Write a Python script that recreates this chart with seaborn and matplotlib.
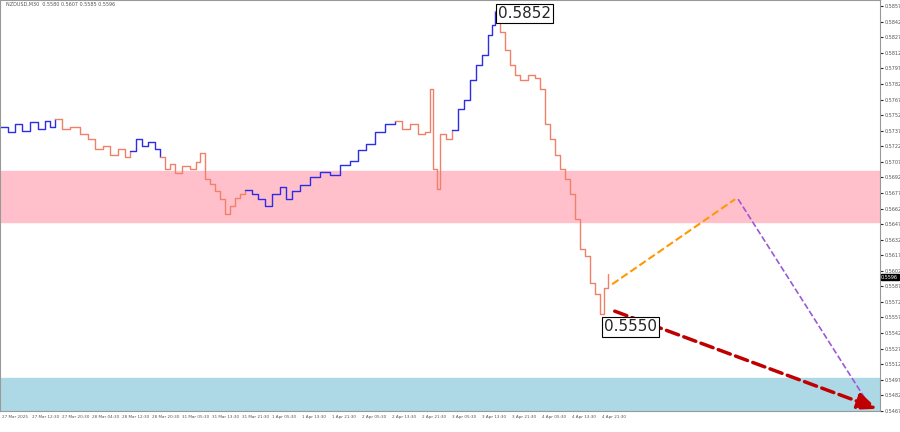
import matplotlib
matplotlib.use("Agg")
import matplotlib.pyplot as plt
import seaborn as sns
import pandas as pd

# time positions (bar units) and prices, grouped by wave
wave1_x = [0, 8, 15, 22, 30, 38, 45, 50, 55]
wave1_y = [0.5741, 0.5736, 0.5743, 0.5737, 0.5745, 0.5739, 0.5746, 0.5741, 0.5748]
wave2_x = [55, 62, 70, 80, 88, 95, 103, 110, 118, 125, 130]
wave2_y = [0.5748, 0.5739, 0.5741, 0.5734, 0.5729, 0.5719, 0.5722, 0.5714, 0.5719, 0.5712, 0.5717]
wave3_x = [130, 136, 142, 148, 155, 160]
wave3_y = [0.5717, 0.5729, 0.5722, 0.5726, 0.5719, 0.5712]
wave4_x = [160, 165, 170, 175, 182, 190, 196, 200]
wave4_y = [0.5712, 0.5700, 0.5705, 0.5696, 0.5703, 0.5700, 0.5707, 0.5716]
wave5_x = [200, 205, 210, 215, 220, 225, 230, 235, 240, 245]
wave5_y = [0.5716, 0.5690, 0.5686, 0.5679, 0.5671, 0.5657, 0.5664, 0.5672, 0.5676, 0.5680]
wave6_x = [245, 252, 258, 265, 272, 280, 286, 292]
wave6_y = [0.5680, 0.5676, 0.5671, 0.5664, 0.5676, 0.5683, 0.5671, 0.5679]
wave7_x = [292, 300, 310, 320, 330, 340, 350, 358, 366, 375, 385, 395]
wave7_y = [0.5679, 0.5685, 0.5692, 0.5697, 0.5694, 0.5704, 0.5708, 0.5718, 0.5724, 0.5736, 0.5743, 0.5746]
wave8_x = [395, 402, 410, 418, 425, 430, 433, 437, 440, 446, 452]
wave8_y = [0.5746, 0.5739, 0.5743, 0.5734, 0.5736, 0.5777, 0.5700, 0.5681, 0.5734, 0.5729, 0.5738]
wave9_x = [452, 458, 464, 470, 476, 482, 488, 492, 495]
wave9_y = [0.5738, 0.5758, 0.5767, 0.5786, 0.5800, 0.5810, 0.5829, 0.5839, 0.5852]
wave10_x = [495, 500, 505, 510, 515, 520, 528, 535, 540, 545, 550, 555, 560, 565, 570, 575, 580, 585, 590, 595, 600, 604, 608]
wave10_y = [0.5852, 0.5832, 0.5815, 0.5800, 0.5791, 0.5786, 0.5791, 0.5788, 0.5777, 0.5743, 0.5729, 0.5714, 0.5700, 0.5690, 0.5676, 0.5652, 0.5623, 0.5616, 0.5590, 0.5580, 0.5560, 0.5585, 0.5599]

blue = "#2d2de6"
salmon = "#f08068"
waves = [(wave1_x, wave1_y, blue), (wave2_x, wave2_y, salmon), (wave3_x, wave3_y, blue),
         (wave4_x, wave4_y, salmon), (wave5_x, wave5_y, salmon), (wave6_x, wave6_y, blue),
         (wave7_x, wave7_y, blue), (wave8_x, wave8_y, salmon), (wave9_x, wave9_y, blue),
         (wave10_x, wave10_y, salmon)]

x_tick_pos = [2, 32, 62, 92, 122, 152, 182, 212, 242, 272, 302, 332, 362, 392, 422, 452, 482, 512, 542, 572, 602]
x_tick_labels = ["27 Mar 2025", "27 Mar 12:30", "27 Mar 20:30", "28 Mar 04:30", "28 Mar 12:30",
                 "28 Mar 20:30", "31 Mar 05:30", "31 Mar 13:30", "31 Mar 21:30", "1 Apr 05:30",
                 "1 Apr 13:30", "1 Apr 21:30", "2 Apr 05:30", "2 Apr 13:30", "2 Apr 21:30",
                 "3 Apr 05:30", "3 Apr 13:30", "3 Apr 21:30", "4 Apr 05:30", "4 Apr 13:30", "4 Apr 21:30"]
y_ticks = [0.5857 - 0.0015 * i for i in range(27)]

sns.set_style("white")
fig = plt.figure(figsize=(9, 4.32), dpi=100)
ax = fig.add_axes([0.0, 0.049, 0.978, 0.951])

ax.axhspan(0.5649, 0.5698, color="#ffc0cb", zorder=0)
ax.axhspan(0.5400, 0.5499, color="#add8e6", zorder=0)

for xs, ys, c in waves:
    df = pd.DataFrame({"t": xs, "p": ys})
    sns.lineplot(data=df, x="t", y="p", color=c, lw=1.0, ax=ax, drawstyle="steps-post")

ax.plot([612, 735], [0.5589, 0.5671], ls="--", color="#ff9900", lw=1.5)
ax.plot([738, 870], [0.5671, 0.5471], ls="--", color="#9b59d6", lw=1.2)
ax.annotate("", xy=(880, 0.5468), xytext=(612, 0.5564),
            arrowprops=dict(arrowstyle="-|>,head_width=0.5,head_length=1.2", ls="--",
                            color="#c00000", lw=2.5))

box = dict(boxstyle="square,pad=0.15", fc="white", ec="black", lw=0.8)
ax.text(498, 0.5850, "0.5852", fontsize=11, bbox=box, va="center")
ax.text(604, 0.5548, "0.5550", fontsize=11, bbox=box, va="center")
ax.text(6, 0.5857, "NZDUSD,M30  0.5580 0.5607 0.5585 0.5596", fontsize=3.5, color="#555")

ax.set_xlim(0, 880)
ax.set_ylim(0.5468, 0.5863)
ax.set_xticks(x_tick_pos)
ax.set_xticklabels(x_tick_labels, fontsize=3, color="#555", ha="left")
ax.yaxis.tick_right()
ax.set_yticks(y_ticks)
ax.set_yticklabels([f"{v:.4f}" for v in y_ticks], fontsize=3.5, color="#555")
ax.tick_params(length=2, pad=1)
ax.set_xlabel("")
ax.set_ylabel("")
for s in ax.spines.values():
    s.set_color("#999")
ax.text(1.001, 0.5596, "0.5596", transform=ax.get_yaxis_transform(), fontsize=3.5,
        color="white", va="center", bbox=dict(boxstyle="square,pad=0.1", fc="black", ec="black"))

fig.savefig("out.png", dpi=100)
